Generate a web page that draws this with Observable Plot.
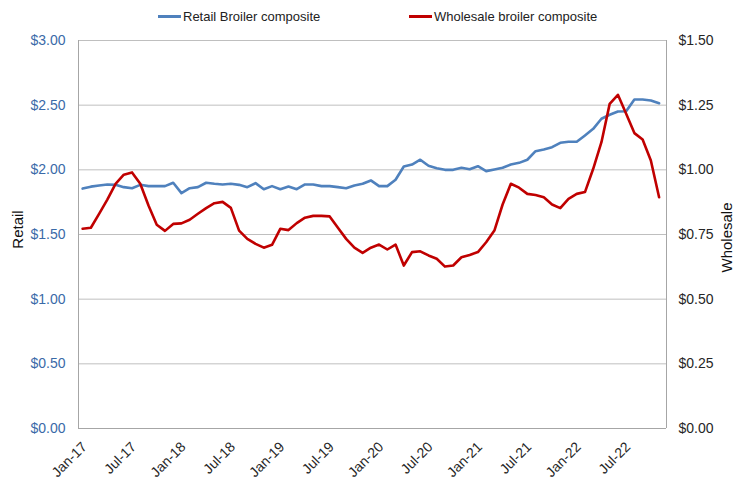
<!DOCTYPE html>
<html><head><meta charset="utf-8">
<script src="https://cdn.jsdelivr.net/npm/d3@7"></script>
<script src="https://cdn.jsdelivr.net/npm/@observablehq/plot@0.6"></script>
<style>
body{margin:0;background:#fff;font-family:"Liberation Sans",Arial,sans-serif;}
#wrap{position:relative;width:743px;height:483px;}
#legend{position:relative;height:30px;width:743px;font-size:13px;color:#222;}
.item{position:absolute;top:8px;height:16px;display:flex;align-items:center;white-space:nowrap;}
.sw{display:inline-block;width:23px;height:3px;margin-right:2px;}
</style></head><body>
<div id="wrap"><div id="legend"></div><div id="chart"></div></div>
<script>
// Monthly values, Jan-17 .. Nov-22
const retail = [1.855,1.870,1.879,1.887,1.884,1.866,1.858,1.884,1.874,1.874,1.874,1.900,
  1.820,1.858,1.866,1.900,1.892,1.887,1.892,1.884,1.866,1.897,1.850,1.874,
  1.850,1.871,1.850,1.887,1.887,1.874,1.874,1.866,1.858,1.879,1.892,1.918,
  1.874,1.874,1.923,2.026,2.041,2.078,2.031,2.013,2.000,2.000,2.016,2.005,
  2.028,1.990,2.003,2.016,2.041,2.054,2.078,2.144,2.157,2.175,2.209,2.217,
  2.217,2.266,2.317,2.395,2.426,2.451,2.453,2.544,2.544,2.536,2.515];
const wholesale = [0.772,0.776,0.830,0.885,0.946,0.981,0.990,0.946,0.862,0.788,0.764,0.791,
  0.793,0.807,0.830,0.852,0.871,0.876,0.853,0.765,0.733,0.714,0.699,0.710,
  0.772,0.767,0.794,0.815,0.822,0.822,0.820,0.776,0.733,0.699,0.679,0.699,
  0.711,0.692,0.711,0.630,0.682,0.685,0.669,0.656,0.626,0.630,0.662,0.671,
  0.682,0.720,0.765,0.866,0.946,0.931,0.907,0.903,0.894,0.866,0.852,0.888,
  0.907,0.914,1.004,1.107,1.255,1.290,1.217,1.142,1.117,1.036,0.894];
const tickLabels = ["Jan-17","Jul-17","Jan-18","Jul-18","Jan-19","Jul-19","Jan-20","Jul-20","Jan-21","Jul-21","Jan-22","Jul-22"];
const retailTicks = [0,0.5,1,1.5,2,2.5,3];
const wholesaleTicks = [0,0.25,0.5,0.75,1,1.25,1.5];
const seriesNames = ["Retail Broiler composite","Wholesale broiler composite"];
const seriesColors = ["#4F81BD","#C00000"];
const axisTitles = ["Retail","Wholesale"];

// legend
const legend = document.getElementById("legend");
const legendX = [158, 409];
seriesNames.forEach((name, k) => {
  const it = document.createElement("div");
  it.className = "item";
  it.style.left = legendX[k] + "px";
  it.innerHTML = `<span class="sw" style="background:${seriesColors[k]}"></span><span>${name}</span>`;
  legend.appendChild(it);
});

const XMAX = 71.4;
const fmt = v => "$" + v.toFixed(2);
const font = "'Liberation Sans', Arial, sans-serif";

const chart = Plot.plot({
  width: 743, height: 453,
  marginTop: 10, marginBottom: 55, marginLeft: 78, marginRight: 77,
  style: {fontFamily: font, background: "#fff"},
  x: {domain: [0, XMAX], axis: null},
  y: {domain: [0, 3], axis: null},
  marks: [
    Plot.ruleY(retailTicks.filter(v => v > 0), {stroke: "#bfbfbf", strokeWidth: 1}),
    Plot.ruleY([0], {stroke: "#a6a6a6", strokeWidth: 1}),
    Plot.ruleX([0, XMAX], {stroke: "#a6a6a6", strokeWidth: 1}),
    Plot.line(retail, {x: (d, i) => i + 0.5, y: d => d, stroke: seriesColors[0], strokeWidth: 2.6}),
    Plot.line(wholesale, {x: (d, i) => i + 0.5, y: d => d * 2, stroke: seriesColors[1], strokeWidth: 2.6}),
    // left ticks
    Plot.text(retailTicks, {x: 0, y: d => d, text: fmt, textAnchor: "end", dx: -13, fontSize: 14, fill: "#3a6aa8"}),
    // right ticks (wholesale scale = half of retail scale)
    Plot.text(wholesaleTicks, {x: XMAX, y: d => d * 2, text: fmt, textAnchor: "start", dx: 12, fontSize: 14, fill: "#262626"}),
    // x tick labels
    Plot.text(tickLabels, {x: (d, i) => i * 6, y: 0, text: d => d, textAnchor: "end", lineAnchor: "middle", rotate: -45, dx: 6, dy: 16, fontSize: 14, fill: "#262626"}),
    // axis titles
    Plot.text([axisTitles[0]], {frameAnchor: "left", text: d => d, textAnchor: "middle", lineAnchor: "middle", rotate: -90, dx: -60, dy: -5, fontSize: 15, fill: "#111"}),
    Plot.text([axisTitles[1]], {frameAnchor: "right", text: d => d, textAnchor: "middle", lineAnchor: "middle", rotate: -90, dx: 61, dy: 3, fontSize: 15, fill: "#111"})
  ]
});
document.getElementById("chart").appendChild(chart);
</script>
</body></html>
